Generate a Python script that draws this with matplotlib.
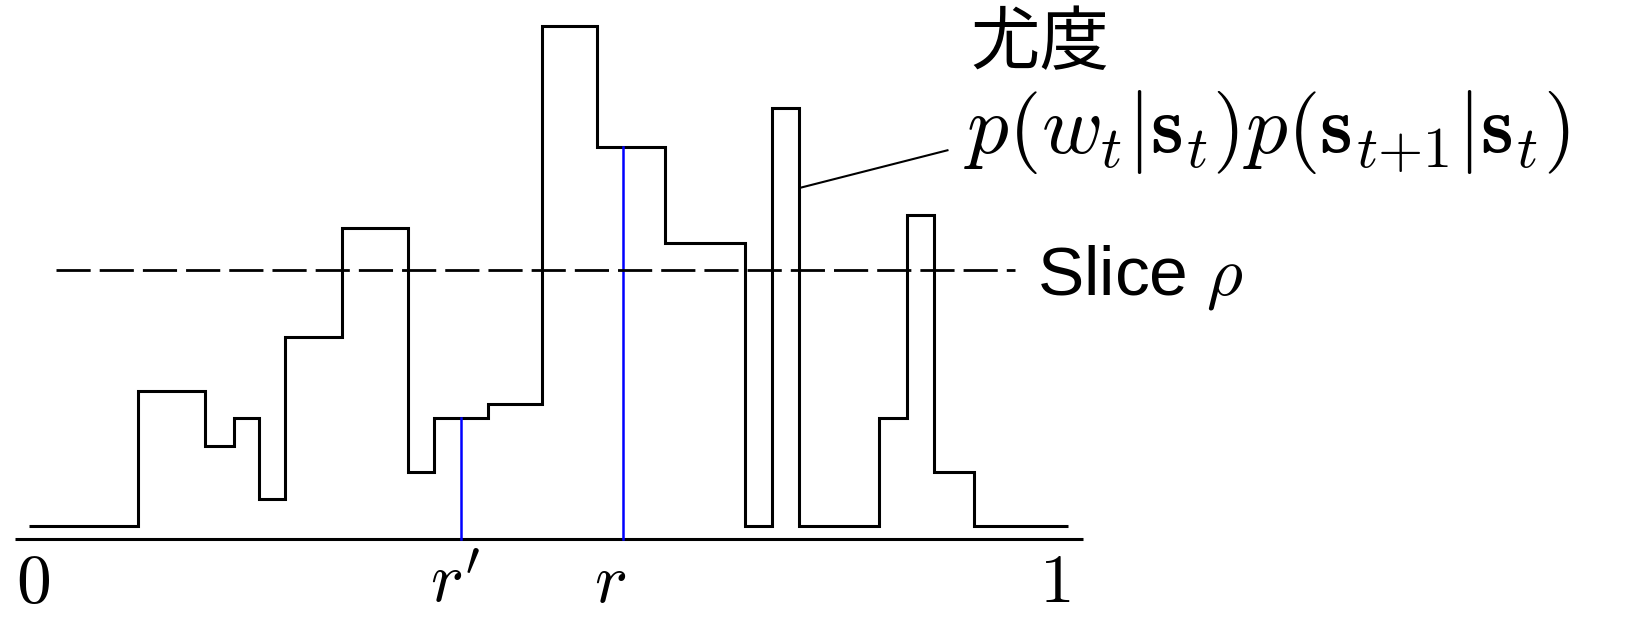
import matplotlib
matplotlib.use("Agg")
from matplotlib import pyplot as plt

plt.rcParams['mathtext.fontset'] = 'cm'

# step function (likelihood), x in [0, 1]
edges = [0, 0.105, 0.169, 0.197, 0.221, 0.246, 0.301, 0.365, 0.390, 0.442,
         0.494, 0.547, 0.612, 0.689, 0.715, 0.741, 0.818, 0.845, 0.871, 0.910, 1.0]
heights = [0, 1.31, 0.78, 1.05, 0.27, 1.83, 2.88, 0.53, 1.05, 1.18,
           4.83, 3.66, 2.74, 0, 4.04, 0, 1.05, 3.01, 0.53, 0]
slice_rho = 2.47
samples = [0.416, 0.572]        # r', r
tick_pos = [0.004, 0.41, 0.559, 0.987]
tick_labels = ['$0$', "$r'$", '$r$', '$1$']

fig = plt.figure(figsize=(16.25, 6.18), dpi=100)
ax = fig.add_axes([0, 0, 1, 1])
ax.axis('off')
ax.set_xlim(-0.0279, 1.5361)
ax.set_ylim(-0.883, 5.080)

axis_y = -0.12
ax.plot([-0.0135, 1.0142], [axis_y, axis_y], color='black', lw=2.2,
        solid_capstyle='butt')
ax.stairs(heights, edges, baseline=None, color='black', lw=2.2)

# blue samples up to the curve
for s in samples:
    i = max(k for k in range(len(heights)) if edges[k] <= s)
    ax.plot([s, s], [axis_y, heights[i]], color='#0000ff', lw=1.8)

ax.plot([0.026, 0.949], [slice_rho, slice_rho], color='black', lw=2,
        linestyle=(0, (12.3, 3.25)))
ax.text(0.970, 2.234, r'Slice $\rho$', fontsize=50, family='Liberation Sans',
        va='baseline', ha='left')

# likelihood annotation
ax.plot([0.743, 0.884], [3.27, 3.63], color='black', lw=1.5)
ax.text(0.906, 4.655, '尤度', fontsize=50, family=['Noto Sans CJK JP', 'DejaVu Sans'],
        va='center', ha='left')
ax.text(0.900, 3.81, r'$p(w_t|\mathbf{s}_t)p(\mathbf{s}_{t{+}1}|\mathbf{s}_t)$',
        fontsize=60, va='center', ha='left')

for p, lab in zip(tick_pos, tick_labels):
    ax.text(p, -0.868, lab, fontsize=50, ha='center', va='bottom')

fig.savefig('out.png', dpi=100)
